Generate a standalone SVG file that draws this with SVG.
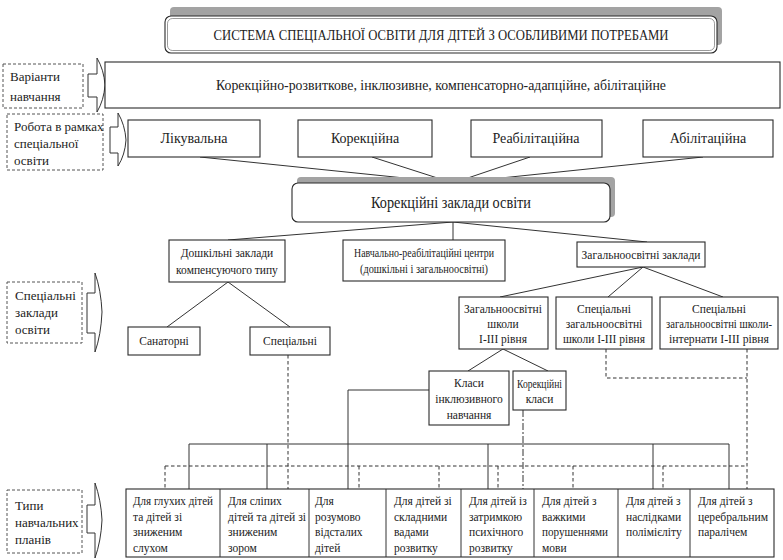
<svg xmlns="http://www.w3.org/2000/svg" width="783" height="560" viewBox="0 0 783 560" font-family="Liberation Serif, Times New Roman, Times, serif">
<defs>
<style>
text{font-family:"Liberation Serif","Times New Roman",Times,"Noto Serif",serif;fill:#222;}
.t{font-size:11.5px;text-anchor:middle;}
.tl{font-size:11.5px;}
.lab{font-size:13px;}
.m{font-size:14px;text-anchor:middle;}
.box{fill:#fff;stroke:#2a2a2a;stroke-width:1.1;}
.dbox{fill:#fff;stroke:#555;stroke-width:1;stroke-dasharray:3 2;}
.arr{fill:#fff;stroke:#333;stroke-width:1;}
.ln{fill:none;stroke:#333;stroke-width:1;}
.dl{fill:none;stroke:#333;stroke-width:1;stroke-dasharray:3.5 2.5;}
.dd{fill:none;stroke:#333;stroke-width:1;stroke-dasharray:7 2 2 2;}
.sh{fill:#a3a3a3;}
</style>
</defs>

<g id="connectors">
<path class="ln" d="M200,157 L453,183 M372,157 L453,183 M530,157 L453,183 M703,157 L453,183"/>
<path class="ln" d="M453,222 L228,240 M453,222 L453,240 M453,222 L647,242"/>
<path class="ln" d="M228,282 L167,327 M228,282 L290,327"/>
<path class="ln" d="M643,267 L500,297 M643,267 L608,297 M643,267 L723,297"/>
<path class="ln" d="M503,349 L468,371 M503,349 L548,371"/>
<path class="ln" d="M429,390 H348 V489"/>
<path class="ln" d="M189,444 H729 M189,444 V489 M267,444 V489 M488,444 V489 M653,444 V489 M729,444 V489"/>
<path class="dl" d="M165,466 H747 M165,466 V489 M359,466 V489 M439,466 V489 M498,466 V489 M573,466 V489 M663,466 V489"/>
<path class="dl" d="M288,355 V489"/>
<path class="dl" d="M606,349 V378 H747 M747,349 V489"/>
<path class="dd" d="M523,410 V489"/>
</g>

<g id="title">
<rect class="sh" x="170" y="7" width="552" height="38" rx="4"/>
<rect class="box" x="165" y="16" width="552" height="37" rx="6" stroke-width="1.6"/>
<rect x="167.5" y="18.5" width="547" height="32" rx="5" fill="none" stroke="#555" stroke-width="0.6"/>
<text x="441" y="40" font-size="15" text-anchor="middle" textLength="455" lengthAdjust="spacingAndGlyphs">СИСТЕМА СПЕЦІАЛЬНОЇ ОСВІТИ ДЛЯ ДІТЕЙ З ОСОБЛИВИМИ ПОТРЕБАМИ</text>
</g>

<g id="label-variants">
<rect class="dbox" x="3" y="64" width="80" height="44"/>
<text class="lab" x="10" y="81" font-size="14">Варіанти</text>
<text class="lab" x="10" y="101" font-size="14">навчання</text>
<path class="arr" d="M88,74 H97 V58 Q104,70 105,85 Q104,100 97,112 V97 H88 Z"/>
</g>

<g id="variants">
<rect class="box" x="105" y="62" width="675" height="46" stroke-width="1.4"/>
<text x="441" y="90" font-size="15" text-anchor="middle" textLength="450" lengthAdjust="spacingAndGlyphs">Корекційно-розвиткове, інклюзивне, компенсаторно-адапційне, абілітаційне</text>
</g>

<g id="label-work">
<rect class="dbox" x="7" y="114" width="96" height="56"/>
<text class="lab" x="14" y="131">Робота в рамках</text>
<text class="lab" x="14" y="148">спеціальної</text>
<text class="lab" x="14" y="165">освіти</text>
<path class="arr" d="M110,127 H118 V113 Q125,125 126,140 Q125,155 118,166 V153 H110 Z"/>
</g>

<g id="likuvalna"><rect class="box" x="128" y="120" width="132" height="37" stroke-width="1.4"/><text class="m" x="194" y="143">Лікувальна</text></g>
<g id="korektsiina"><rect class="box" x="298" y="120" width="134" height="37" stroke-width="1.4"/><text class="m" x="365" y="143">Корекційна</text></g>
<g id="reabilitatsiina"><rect class="box" x="471" y="120" width="131" height="37" stroke-width="1.4"/><text class="m" x="536" y="143">Реабілітаційна</text></g>
<g id="abilitatsiina"><rect class="box" x="643" y="120" width="130" height="37" stroke-width="1.4"/><text class="m" x="708" y="143">Абілітаційна</text></g>

<g id="korektsiini-zaklady">
<rect class="sh" x="297" y="177" width="318" height="40" rx="4"/>
<rect class="box" x="292" y="183" width="318" height="39" rx="6"/>
<text x="451" y="208" font-size="17" text-anchor="middle" textLength="160" lengthAdjust="spacingAndGlyphs">Корекційні заклади освіти</text>
</g>

<g id="doshkilni"><rect class="box" x="169" y="240" width="116" height="42"/>
<text class="t" x="227" y="257">Дошкільні заклади</text><text class="t" x="227" y="274">компенсуючого типу</text></g>
<g id="navchalno-reab"><rect class="box" x="343" y="240" width="162" height="41"/>
<text class="t" x="424" y="257" textLength="140" lengthAdjust="spacingAndGlyphs">Навчально-реабілітаційні центри</text><text class="t" x="424" y="273" textLength="128" lengthAdjust="spacingAndGlyphs">(дошкільні і загальноосвітні)</text></g>
<g id="zahalnoosvitni-zaklady"><rect class="box" x="577" y="242" width="128" height="25"/>
<text class="t" x="641" y="259">Загальноосвітні заклади</text></g>

<g id="label-special">
<rect class="dbox" x="7" y="282" width="75" height="61"/>
<text class="lab" x="15" y="300">Спеціальні</text>
<text class="lab" x="15" y="317">заклади</text>
<text class="lab" x="15" y="334">освіти</text>
<path class="arr" d="M87,293 H95 V273 Q101,290 102,312 Q101,335 95,352 V333 H87 Z"/>
</g>

<g id="sanatorni"><rect class="box" x="128" y="327" width="72" height="28"/><text class="t" x="164" y="345">Санаторні</text></g>
<g id="spetsialni"><rect class="box" x="250" y="327" width="80" height="28"/><text class="t" x="290" y="345">Спеціальні</text></g>

<g id="zag-shkoly"><rect class="box" x="459" y="297" width="89" height="52"/>
<text class="t" x="503" y="313">Загальноосвітні</text><text class="t" x="503" y="328">школи</text><text class="t" x="503" y="343">I-III рівня</text></g>
<g id="spets-zag-shkoly"><rect class="box" x="556" y="297" width="96" height="52"/>
<text class="t" x="604" y="313">Спеціальні</text><text class="t" x="604" y="328">загальноосвітні</text><text class="t" x="604" y="343">школи I-III рівня</text></g>
<g id="internaty"><rect class="box" x="660" y="297" width="118" height="52"/>
<text class="t" x="719" y="313">Спеціальні</text><text class="t" x="719" y="328" textLength="106" lengthAdjust="spacingAndGlyphs">загальноосвітні школи-</text><text class="t" x="719" y="343" textLength="100" lengthAdjust="spacingAndGlyphs">інтернати I-III рівня</text></g>

<g id="klasy-inkl"><rect class="box" x="429" y="371" width="80" height="54"/>
<text class="t" x="469" y="387">Класи</text><text class="t" x="469" y="403">інклюзивного</text><text class="t" x="469" y="419">навчання</text></g>
<g id="kor-klasy"><rect class="box" x="513" y="371" width="53" height="39"/>
<text class="t" x="539.5" y="388" textLength="45" lengthAdjust="spacingAndGlyphs">Корекційні</text><text class="t" x="539.5" y="403">класи</text></g>

<g id="label-plans">
<rect class="dbox" x="7" y="490" width="75" height="63"/>
<text class="lab" x="15" y="510">Типи</text>
<text class="lab" x="15" y="527">навчальних</text>
<text class="lab" x="15" y="544">планів</text>
<path class="arr" d="M87,505 H95 V483 Q101,500 102,520 Q101,541 95,558 V533 H87 Z"/>
</g>

<g id="plans">
<rect class="box" x="126" y="489" width="648" height="68"/>
<path class="ln" d="M220,489 V557 M309,489 V557 M386,489 V557 M461,489 V557 M534,489 V557 M618,489 V557 M690,489 V557"/>
</g>
<g id="plan-1"><text class="tl" x="133" y="505" textLength="80" lengthAdjust="spacingAndGlyphs">Для глухих дітей</text><text class="tl" x="133" y="520.5">та дітей зі</text><text class="tl" x="133" y="536">зниженим</text><text class="tl" x="133" y="551.5">слухом</text></g>
<g id="plan-2"><text class="tl" x="228" y="505">Для сліпих</text><text class="tl" x="228" y="520.5" textLength="78" lengthAdjust="spacingAndGlyphs">дітей та дітей зі</text><text class="tl" x="228" y="536">зниженим</text><text class="tl" x="228" y="551.5">зором</text></g>
<g id="plan-3"><text class="tl" x="315" y="505">Для</text><text class="tl" x="315" y="520.5">розумово</text><text class="tl" x="315" y="536">відсталих</text><text class="tl" x="315" y="551.5">дітей</text></g>
<g id="plan-4"><text class="tl" x="394" y="505">Для дітей зі</text><text class="tl" x="394" y="520.5">складними</text><text class="tl" x="394" y="536">вадами</text><text class="tl" x="394" y="551.5">розвитку</text></g>
<g id="plan-5"><text class="tl" x="469" y="505">Для дітей із</text><text class="tl" x="469" y="520.5">затримкою</text><text class="tl" x="469" y="536">психічного</text><text class="tl" x="469" y="551.5">розвитку</text></g>
<g id="plan-6"><text class="tl" x="542" y="505">Для дітей з</text><text class="tl" x="542" y="520.5">важкими</text><text class="tl" x="542" y="536" textLength="66" lengthAdjust="spacingAndGlyphs">порушеннями</text><text class="tl" x="542" y="551.5">мови</text></g>
<g id="plan-7"><text class="tl" x="626" y="505">Для дітей з</text><text class="tl" x="626" y="520.5">наслідками</text><text class="tl" x="626" y="536">полімієліту</text></g>
<g id="plan-8"><text class="tl" x="698" y="505">Для дітей з</text><text class="tl" x="698" y="520.5" textLength="70" lengthAdjust="spacingAndGlyphs">церебральним</text><text class="tl" x="698" y="536">паралічем</text></g>
</svg>
